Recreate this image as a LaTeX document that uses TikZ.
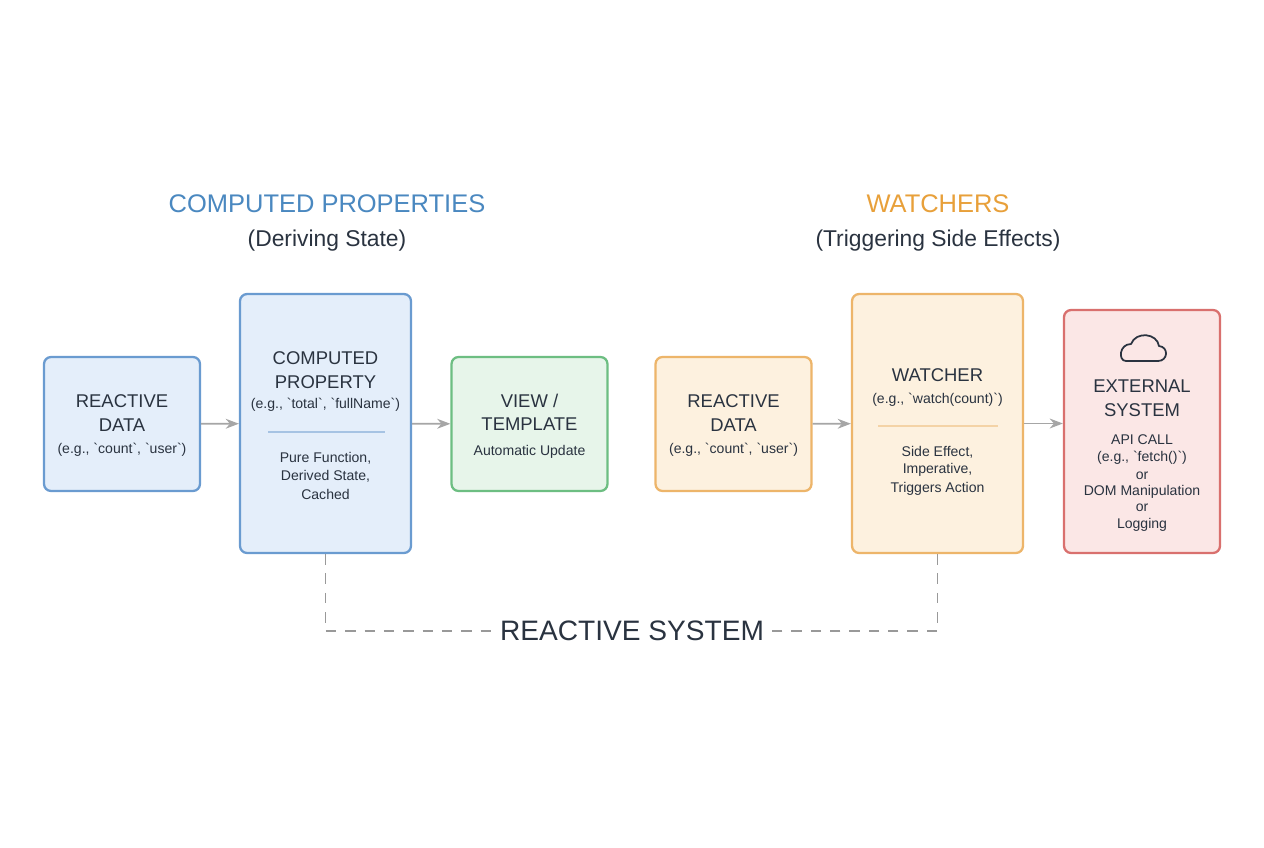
\documentclass[tikz,border=0pt]{standalone}
\usepackage{fontspec}
\setmainfont{Liberation Sans}
\usetikzlibrary{arrows.meta,positioning}
\definecolor{cpBlue}{HTML}{4A88C0}
\definecolor{cpBlueFill}{HTML}{E4EEFA}
\definecolor{cpBlueLine}{HTML}{6A9BD0}
\definecolor{cpGreenFill}{HTML}{E7F5EA}
\definecolor{cpGreenLine}{HTML}{6DBE82}
\definecolor{wOrange}{HTML}{E8A03A}
\definecolor{wOrangeFill}{HTML}{FDF1DF}
\definecolor{wOrangeLine}{HTML}{EDB56A}
\definecolor{extRedFill}{HTML}{FBE7E6}
\definecolor{extRedLine}{HTML}{D9706E}
\definecolor{inkDark}{HTML}{2A3340}
\newcommand{\bq}{\textasciigrave}
\begin{document}
\begin{tikzpicture}[x=0.02cm, y=-0.02cm, >=Stealth, font=\sffamily,
    box/.style={rectangle, rounded corners=4pt, line width=1.3pt},
    big/.style={font=\fontsize{10.5}{12}\selectfont, text=inkDark},
    small/.style={font=\fontsize{8}{9}\selectfont, text=inkDark},
    flow/.style={->, draw=gray!70, line width=1pt},
    sep/.style={draw=cpBlueLine!60, line width=0.6pt}]

    \useasboundingbox[fill=white] (0,0) rectangle (1264,848);

    % --- headings ---
    \node[text=cpBlue, font=\fontsize{14.5}{16}\selectfont] (cpTitle) at (327,204) {COMPUTED PROPERTIES};
    \node[text=inkDark, font=\fontsize{13}{15}\selectfont] (cpSub) at (327,241) {(Deriving State)};
    \node[text=wOrange, font=\fontsize{14.5}{16}\selectfont] (wTitle) at (938,204) {WATCHERS};
    \node[text=inkDark, font=\fontsize{13}{15}\selectfont] (wSub) at (938,241) {(Triggering Side Effects)};

    % --- boxes ---
    \node[box, fill=cpBlueFill, draw=cpBlueLine, minimum width=3.12cm, minimum height=2.68cm] (data1) at (122,424) {};
    \node[box, fill=cpBlueFill, draw=cpBlueLine, minimum width=3.42cm, minimum height=5.18cm] (computed) at (325.5,423.5) {};
    \node[box, fill=cpGreenFill, draw=cpGreenLine, minimum width=3.12cm, minimum height=2.68cm] (view) at (529.5,424) {};
    \node[box, fill=wOrangeFill, draw=wOrangeLine, minimum width=3.12cm, minimum height=2.68cm] (data2) at (733.5,424) {};
    \node[box, fill=wOrangeFill, draw=wOrangeLine, minimum width=3.42cm, minimum height=5.18cm] (watcher) at (937.5,423.5) {};
    \node[box, fill=extRedFill, draw=extRedLine, minimum width=3.12cm, minimum height=4.86cm] (external) at (1142,431.5) {};

    % --- box texts ---
    \node[big] (data1A) at (122,401) {REACTIVE};
    \node[big] (data1B) at (122,425) {DATA};
    \node[small] (data1C) at (122,450) {(e.g., \bq count\bq, \bq user\bq)};

    \node[big] (compA) at (325.5,358) {COMPUTED};
    \node[big] (compB) at (325.5,382) {PROPERTY};
    \node[small] (compC) at (325.5,405) {(e.g., \bq total\bq, \bq fullName\bq)};
    \draw[sep] (268,432) -- (385,432);
    \node[small] (compD) at (325.5,458) {Pure Function,};
    \node[small] (compE) at (325.5,476) {Derived State,};
    \node[small] (compF) at (325.5,494) {Cached};

    \node[big] (viewA) at (529.5,401) {VIEW /};
    \node[big] (viewB) at (529.5,424) {TEMPLATE};
    \node[small] (viewC) at (529.5,452) {Automatic Update};

    \node[big] (data2A) at (733.5,401) {REACTIVE};
    \node[big] (data2B) at (733.5,425) {DATA};
    \node[small] (data2C) at (733.5,450) {(e.g., \bq count\bq, \bq user\bq)};

    \node[big] (watchA) at (937.5,375) {WATCHER};
    \node[small] (watchB) at (937.5,400) {(e.g., \bq watch(count)\bq)};
    \draw[sep, draw=wOrangeLine!60] (878,426) -- (998,426);
    \node[small] (watchC) at (937.5,452) {Side Effect,};
    \node[small] (watchD) at (937.5,470) {Imperative,};
    \node[small] (watchE) at (937.5,489) {Triggers Action};

    % cloud icon
    \draw[inkDark, line width=1pt, line join=round]
        (1126,361) -- (1158,361)
        .. controls (1168,361) and (1169,347) .. (1159,346)
        .. controls (1157,333) and (1136,331) .. (1131,344)
        .. controls (1119,344) and (1118,361) .. cycle;
    \node[big] (extA) at (1142,386) {EXTERNAL};
    \node[big] (extB) at (1142,410) {SYSTEM};
    \node[small] (extC) at (1142,440) {API CALL};
    \node[small] (extD) at (1142,458) {(e.g., \bq fetch()\bq)};
    \node[small] (extE) at (1142,476) {or};
    \node[small] (extF) at (1142,492) {DOM Manipulation};
    \node[small] (extG) at (1142,508) {or};
    \node[small] (extH) at (1142,525) {Logging};

    % --- flow arrows ---
    \draw[flow] (data1) -- (computed);
    \draw[flow] (computed) -- (view);
    \draw[flow] (data2) -- (watcher);
    \draw[flow] (watcher.east) -- (watcher.east -| external.west);

    % --- reactive system bracket ---
    \node[text=inkDark, font=\fontsize{16}{18}\selectfont] (system) at (632,631) {REACTIVE SYSTEM};
    \draw[dashed, draw=gray!80, line width=1pt, dash pattern=on 6pt off 5pt]
        (computed.south) |- (system.west);
    \draw[dashed, draw=gray!80, line width=1pt, dash pattern=on 6pt off 5pt]
        (watcher.south) |- (system.east);

\end{tikzpicture}
\end{document}
